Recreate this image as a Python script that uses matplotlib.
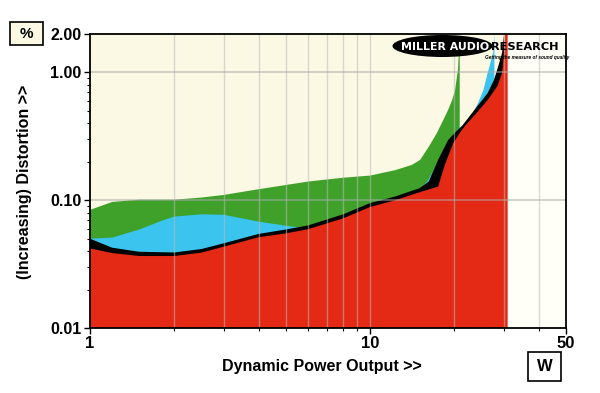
import matplotlib
matplotlib.use("Agg")
import matplotlib.pyplot as plt
from matplotlib.patches import Ellipse, Rectangle
from matplotlib.ticker import FixedLocator, NullFormatter

plt.rcParams['font.family'] = ['Liberation Sans', 'DejaVu Sans']

# distortion (%) against dynamic power output (W), four load curves
green_w = [1.0, 1.2, 1.5, 2.0, 2.5, 3.0, 4.0, 6.0, 8.0, 10.0, 12.3, 14.1, 15.1,
           16.2, 17.3, 18.5, 19.0, 19.6, 20.1, 20.6, 20.9]
green_pct = [0.084, 0.097, 0.101, 0.101, 0.105, 0.110, 0.122, 0.140, 0.150, 0.156,
             0.172, 0.189, 0.207, 0.262, 0.334, 0.45, 0.51, 0.60, 0.72, 1.05, 2.0]

cyan_w = [1.0, 1.2, 1.5, 1.8, 2.0, 2.5, 3.0, 4.0, 5.3, 6.0, 8.0, 10.0, 12.3, 14.0,
          15.0, 16.0, 17.5, 19.0, 20.6, 22.3, 23.3, 24.3, 25.4, 26.3, 27.5, 27.8]
cyan_pct = [0.050, 0.051, 0.059, 0.069, 0.0745, 0.0776, 0.077, 0.068, 0.062, 0.061,
            0.074, 0.092, 0.104, 0.114, 0.123, 0.140, 0.200, 0.29, 0.36, 0.417, 0.482,
            0.577, 0.729, 0.991, 1.42, 2.0]

black_w = [1.0, 1.2, 1.5, 2.0, 2.5, 3.0, 4.0, 5.0, 6.0, 8.0, 10.0, 12.3, 14.0, 15.0,
           16.2, 17.5, 19.0, 20.4, 21.3, 22.7, 26.3, 27.7, 28.7, 29.6, 30.1]
black_pct = [0.050, 0.0425, 0.0395, 0.039, 0.0415, 0.046, 0.0545, 0.059, 0.0635, 0.0775,
             0.095, 0.107, 0.118, 0.124, 0.140, 0.207, 0.296, 0.35, 0.381, 0.457, 0.69,
             0.873, 1.12, 1.42, 2.0]

red_w = [1.0, 1.2, 1.5, 2.0, 2.5, 3.0, 4.0, 5.0, 6.0, 8.0, 10.0, 12.3, 14.0, 17.5,
         18.5, 19.8, 20.9, 21.8, 24.0, 26.3, 28.5, 29.6, 30.1, 30.3, 31.0]
red_pct = [0.042, 0.0386, 0.0366, 0.0366, 0.0389, 0.0433, 0.0513, 0.055, 0.0593, 0.072,
           0.0885, 0.100, 0.110, 0.128, 0.19, 0.278, 0.336, 0.381, 0.482, 0.609, 0.784,
           0.991, 1.42, 2.0, 2.0]

x_major = [1, 10, 50]
x_minor = [2, 3, 4, 5, 6, 7, 8, 9, 20, 30, 40]
y_major = [0.01, 0.1, 1.0, 2.0]
y_labels = ['0.01', '0.10', '1.00', '2.00']
y_minor = [0.02, 0.03, 0.04, 0.05, 0.06, 0.07, 0.08, 0.09,
           0.2, 0.3, 0.4, 0.5, 0.6, 0.7, 0.8, 0.9]

fig = plt.figure(figsize=(6, 3.93), dpi=100)
ax = fig.add_axes([0.15, 0.1654, 0.793, 0.748])
ax.set_xscale('log')
ax.set_yscale('log')
ax.set_xlim(1, 50)
ax.set_ylim(0.01, 2.0)
ax.set_facecolor('#FBF8E4')
ax.axvspan(31, 50, color='#FFFEF7', lw=0, zorder=0.5)

base = 0.001
ax.fill_between(green_w, base, green_pct, color='#3FA12A', lw=0)
ax.fill_between(cyan_w, base, cyan_pct, color='#3AC4EE', lw=0)
ax.fill_between(black_w, base, black_pct, color='#000000', lw=0)
ax.fill_between(red_w, base, red_pct, color='#E42914', lw=0)

# grid on top of the fills
for v in x_minor + [10]:
    ax.axvline(v, color='#BBBBBB', lw=1, alpha=0.55, zorder=3)
for v in [0.1, 1.0]:
    ax.axhline(v, color='#AAAAAA', lw=1.2, alpha=0.6, zorder=3)

ax.xaxis.set_major_locator(FixedLocator(x_major))
ax.xaxis.set_minor_locator(FixedLocator(x_minor))
ax.set_xticklabels([str(v) for v in x_major])
ax.xaxis.set_minor_formatter(NullFormatter())
ax.yaxis.set_major_locator(FixedLocator(y_major))
ax.yaxis.set_minor_locator(FixedLocator(y_minor))
ax.set_yticklabels(y_labels)
ax.yaxis.set_minor_formatter(NullFormatter())

ax.tick_params(which='major', length=4, width=1, labelsize=12, pad=2)
ax.tick_params(which='minor', length=2.5, width=0.8)
for lab in ax.get_xticklabels() + ax.get_yticklabels():
    lab.set_fontweight('bold')
for lab in ax.get_yticklabels():
    lab.set_fontsize(11.5)
for s in ax.spines.values():
    s.set_linewidth(1.3)
    s.set_zorder(5)

fig.text(25 / 600, 1 - 182 / 393, '(Increasing) Distortion >>', rotation=90,
         ha='center', va='center', fontsize=11.5, fontweight='bold')
fig.text(322 / 600, 1 - 366 / 393, 'Dynamic Power Output >>',
         ha='center', va='center', fontsize=11.5, fontweight='bold')

# unit boxes
fig.patches.append(Rectangle((10 / 600, 1 - 45 / 393), 33 / 600, 23 / 393,
                             transform=fig.transFigure, facecolor='#FBF8E4',
                             edgecolor='black', lw=1.2))
fig.text(26.5 / 600, 1 - 33.5 / 393, '%', ha='center', va='center',
         fontsize=11, fontweight='bold')
fig.patches.append(Rectangle((528 / 600, 1 - 381 / 393), 33 / 600, 29 / 393,
                             transform=fig.transFigure, facecolor='white',
                             edgecolor='black', lw=1.2))
fig.text(544.5 / 600, 1 - 366.5 / 393, 'W', ha='center', va='center',
         fontsize=12, fontweight='bold')

# logo
fig.patches.append(Ellipse((442.5 / 600, 1 - 46 / 393), 100 / 600, 22 / 393,
                           transform=fig.transFigure, facecolor='black',
                           edgecolor='none', zorder=6))
fig.text(445 / 600, 1 - 46.5 / 393, 'MILLER AUDIO', ha='center', va='center',
         color='white', fontsize=7.9, fontweight='bold', family='DejaVu Sans',
         zorder=7)
fig.text(491 / 600, 1 - 46.5 / 393, 'RESEARCH', ha='left', va='center',
         color='black', fontsize=8.2, fontweight='bold', family='DejaVu Sans',
         zorder=7)
fig.text(485 / 600, 1 - 57.5 / 393, 'Getting the measure of sound quality',
         ha='left', va='center', color='black', fontsize=3.4, fontweight='bold',
         style='italic', zorder=7)

fig.savefig('out.png', dpi=100, facecolor='white')
